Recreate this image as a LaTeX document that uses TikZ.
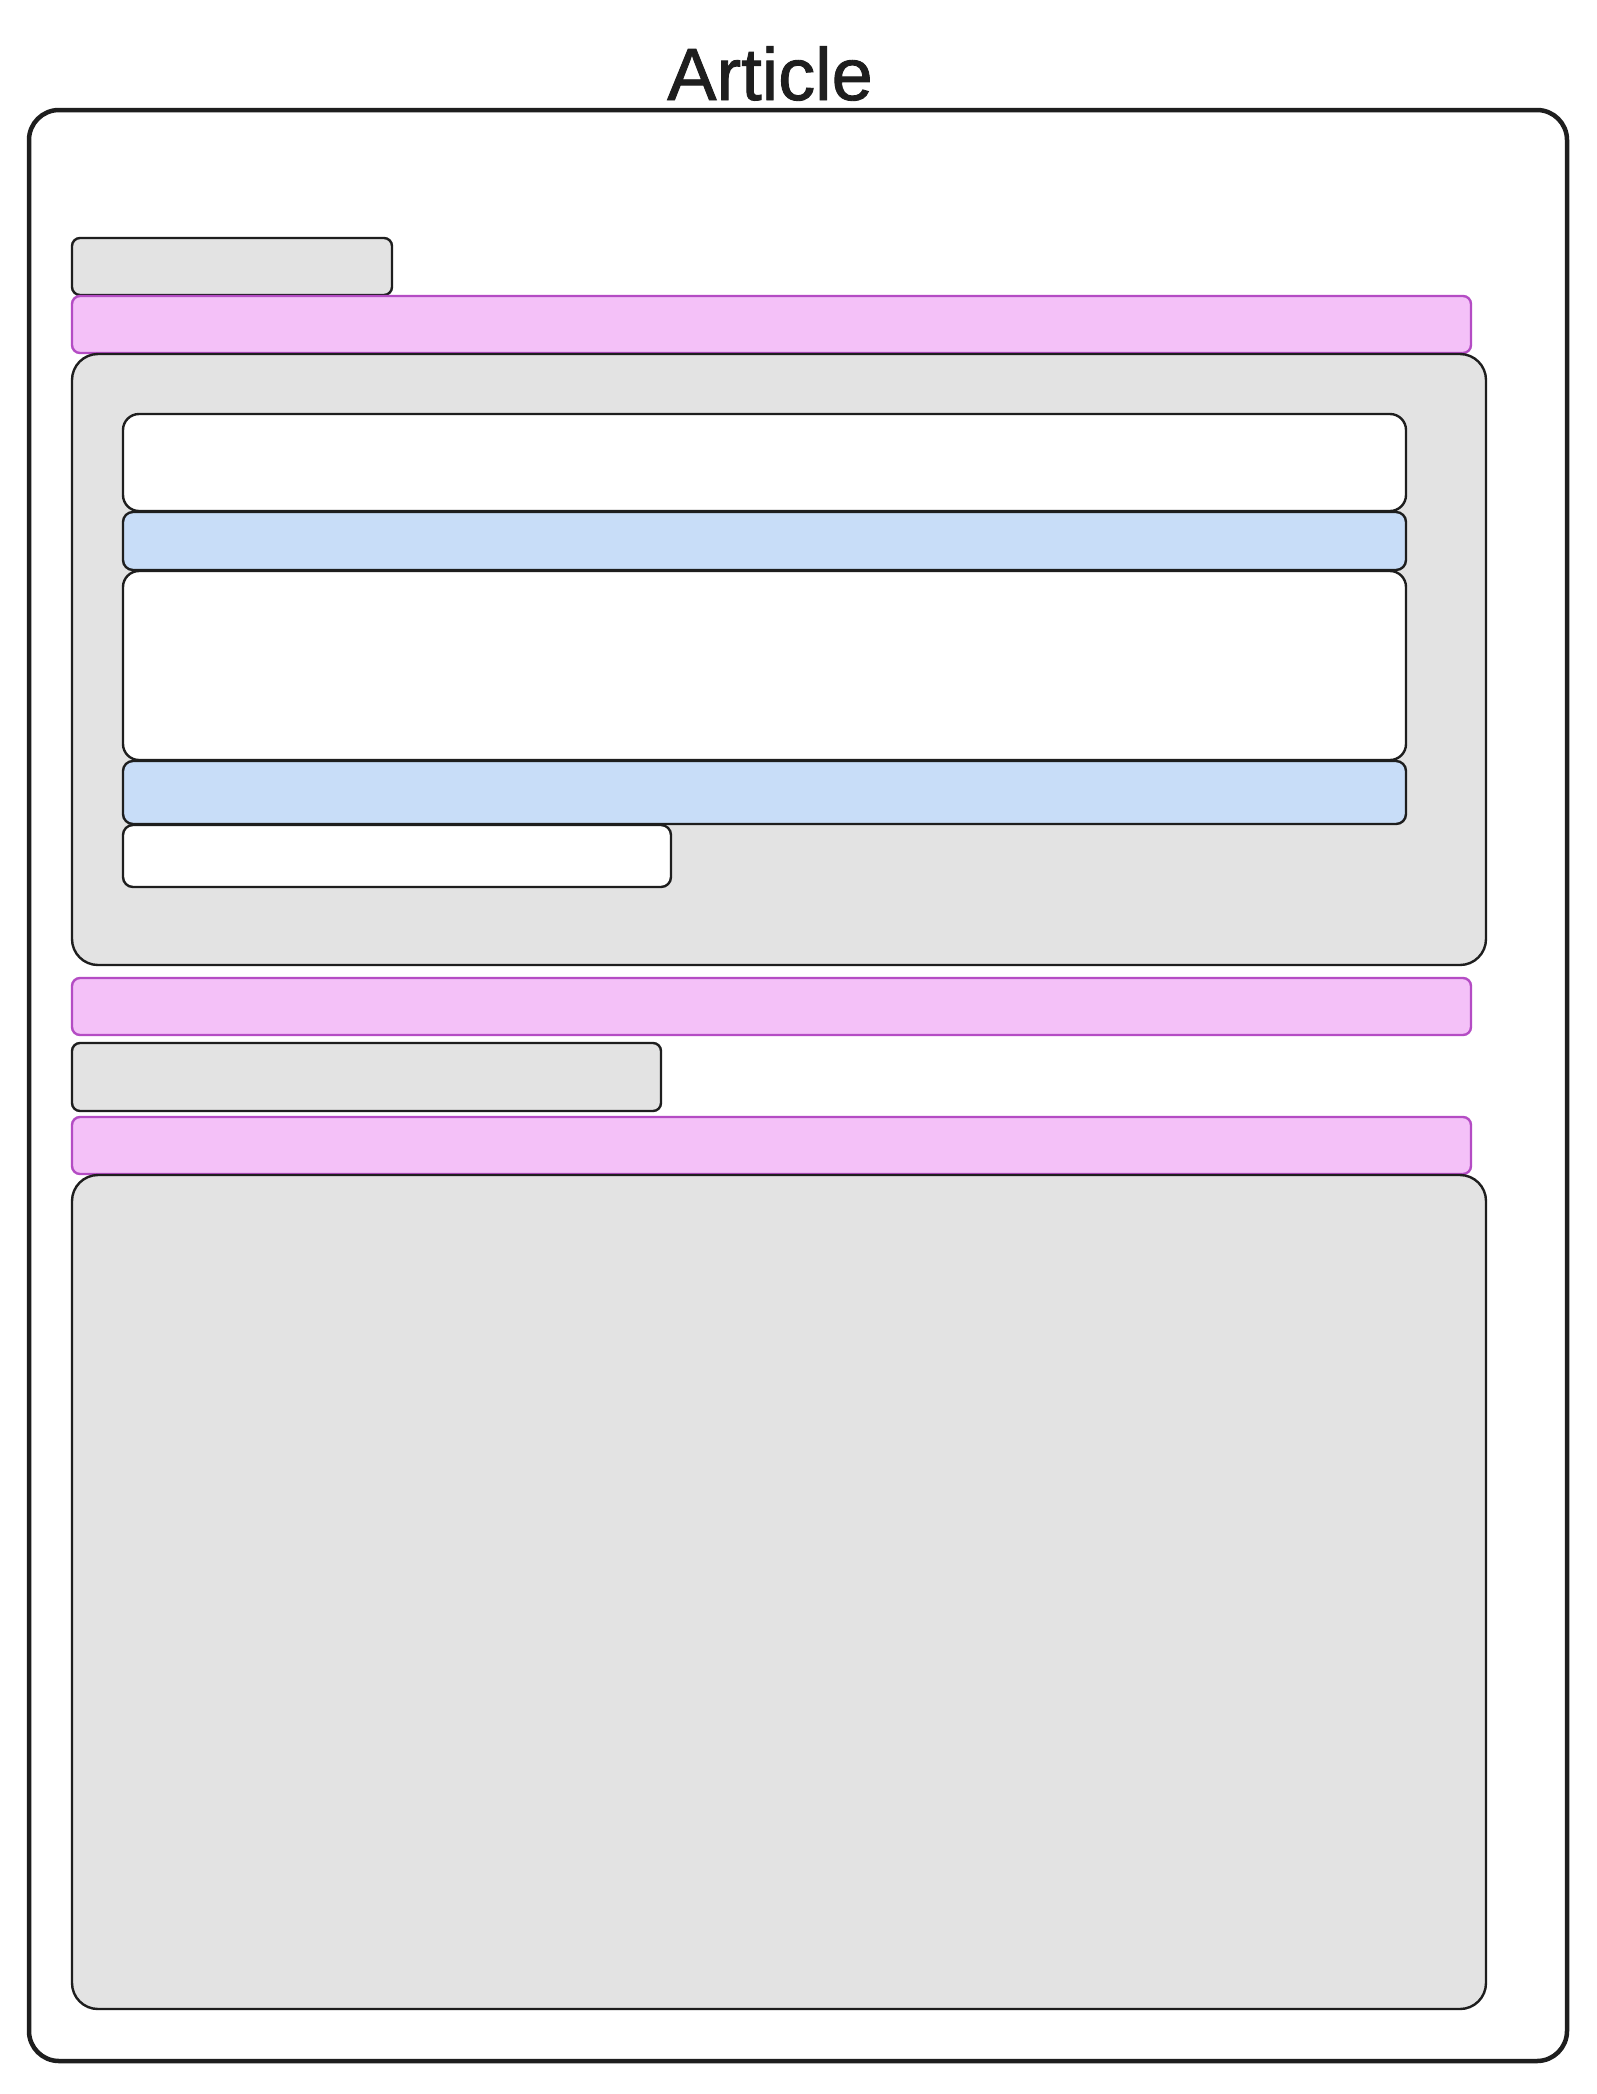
\documentclass[tikz,border=0pt]{standalone}
\usepackage{fontspec}
\setmainfont{Liberation Sans}
\newfontfamily\titlefont[FakeBold=1.2]{Liberation Sans}
\usetikzlibrary{fit}
\definecolor{ink}{HTML}{1E1E1E}
\definecolor{grayfill}{HTML}{E3E3E3}
\definecolor{pinkfill}{HTML}{F4C1F8}
\definecolor{pinkline}{HTML}{B44CC4}
\definecolor{bluefill}{HTML}{C8DDF8}
\begin{document}
\begin{tikzpicture}[x=1pt,y=-1pt,
  base/.style={rectangle, inner sep=0pt, outer sep=0pt},
  outerbox/.style={base, draw=ink, line width=4.5pt, rounded corners=30pt, fill=white},
  graybox/.style={base, draw=ink, line width=2.4pt, rounded corners=26pt, fill=grayfill},
  graytab/.style={base, draw=ink, line width=2.4pt, rounded corners=8pt, fill=grayfill},
  pinkbar/.style={base, draw=pinkline, line width=2.4pt, rounded corners=8pt, fill=pinkfill},
  whitebox/.style={base, draw=ink, line width=2.4pt, rounded corners=16pt, fill=white},
  whitetab/.style={base, draw=ink, line width=2.4pt, rounded corners=10pt, fill=white},
  bluebar/.style={base, draw=ink, line width=2.4pt, rounded corners=10pt, fill=bluefill},
  titletext/.style={inner sep=0pt, font=\titlefont\fontsize{74}{80}\selectfont, text=ink, anchor=base}
]
\useasboundingbox (0,0) rectangle (1596,2094);
\fill[white] (0,0) rectangle (1596,2094);

\node[titletext] (title) at (770,100) {Article};

\node[outerbox, fit={(29,110) (1567,2061)}] (article) {};

\node[graytab, fit={(72,238) (392,295)}] (tab1) {};
\node[pinkbar, fit={(72,296) (1471,353)}] (pink1) {};
\node[graybox, fit={(72,354) (1486,965)}] (panel1) {};

\node[whitebox, fit={(123,414) (1406,511)}] (white1) {};
\node[bluebar, fit={(123,512) (1406,570)}] (blue1) {};
\node[whitebox, fit={(123,571) (1406,760)}] (white2) {};
\node[bluebar, fit={(123,761) (1406,824)}] (blue2) {};
\node[whitetab, fit={(123,825) (671,887)}] (white3) {};

\node[pinkbar, fit={(72,978) (1471,1035)}] (pink2) {};
\node[graytab, fit={(72,1043) (661,1111)}] (tab2) {};
\node[pinkbar, fit={(72,1117) (1471,1174)}] (pink3) {};
\node[graybox, fit={(72,1175) (1486,2009)}] (panel2) {};
\end{tikzpicture}
\end{document}
